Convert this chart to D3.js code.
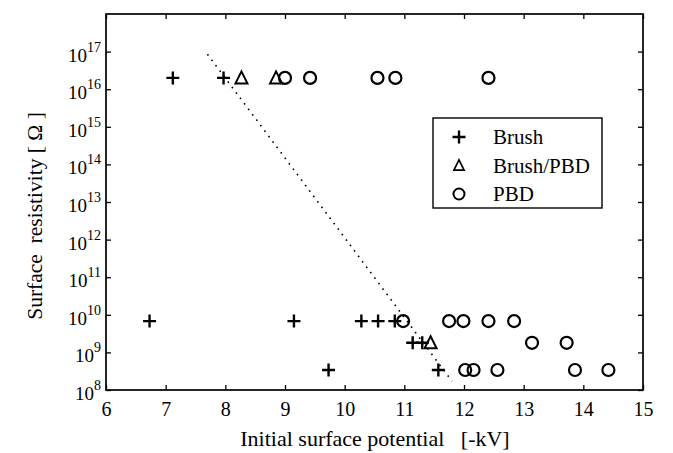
<!DOCTYPE html>
<meta charset="utf-8">
<script src="https://d3js.org/d3.v7.min.js"></script>
<style>
  body { margin: 0; background: #fff; }
  text { font-family: "Liberation Serif", "Times New Roman", serif; fill: #000; }
</style>
<div id="chart"></div>
<script>
// data
var brushX = [7.12, 7.97, 6.73, 9.15, 10.28, 10.56, 10.84, 11.14, 11.30, 9.73, 11.57]
var brushY = [2e16, 2e16, 6.8e9, 6.8e9, 6.8e9, 6.8e9, 6.8e9, 1.8e9, 1.8e9, 3.4e8, 3.4e8]
var mixX = [8.27, 8.85, 11.44]
var mixY = [2e16, 2e16, 1.8e9]
var pbdX = [9.0, 9.42, 10.55, 10.85, 12.41, 10.98, 11.75, 11.99, 12.41, 12.84, 13.14, 13.72, 12.02, 12.16, 12.56, 13.86, 14.42]
var pbdY = [2e16, 2e16, 2e16, 2e16, 2e16, 6.8e9, 6.8e9, 6.8e9, 6.8e9, 6.8e9, 1.8e9, 1.8e9, 3.4e8, 3.4e8, 3.4e8, 3.4e8, 3.4e8]
var fitX = [7.7, 11.8]
var fitY = [8.5e16, 1.7e8]
var xTicks = [6, 7, 8, 9, 10, 11, 12, 13, 14, 15]
var yExps = [8, 9, 10, 11, 12, 13, 14, 15, 16, 17]
var legendNames = ["Brush", "Brush/PBD", "PBD"]

var width = 673, height = 453
var pLeft = 106, pRight = 643, pTop = 14, pBottom = 390

var svg = d3.select("#chart").append("svg")
    .attr("width", width)
    .attr("height", height)

var x = d3.scaleLinear().domain([6, 15]).range([pLeft, pRight])
var y = d3.scaleLog().domain([1e8, 1e18]).range([pBottom, pTop])

var plusPath = "M-6.5,0H6.5M0,-6.5V6.5"
var triPath = "M0,-6.5L6,5.5L-6,5.5Z"

// axes, ticks pointing inward
svg.append("g")
    .attr("transform", "translate(0," + pBottom + ")")
    .call(d3.axisBottom(x).tickValues(xTicks).tickSizeInner(-5).tickSizeOuter(0).tickPadding(12))
    .call(function(g) {
      g.select(".domain").remove()
      g.selectAll("text").style("font-size", "20px")
    })
svg.append("g")
    .attr("transform", "translate(0," + pTop + ")")
    .call(d3.axisTop(x).tickValues(xTicks).tickSizeInner(-5).tickSizeOuter(0).tickFormat(""))
    .call(function(g) { g.select(".domain").remove() })

var yVals = yExps.map(function(e) { return Math.pow(10, e) })
svg.append("g")
    .attr("transform", "translate(" + pLeft + ",0)")
    .call(d3.axisLeft(y).tickValues(yVals).tickSizeInner(-5).tickSizeOuter(0).tickFormat(""))
    .call(function(g) { g.select(".domain").remove() })
svg.append("g")
    .attr("transform", "translate(" + pRight + ",0)")
    .call(d3.axisRight(y).tickValues(yVals).tickSizeInner(-5).tickSizeOuter(0).tickFormat(""))
    .call(function(g) { g.select(".domain").remove() })

svg.selectAll("g.tick line").attr("stroke", "#000").attr("stroke-width", 1.3)

// y tick labels 10^n
var ylab = svg.append("g").selectAll("text")
    .data(yExps)
    .enter().append("text")
    .attr("x", pLeft - 5)
    .attr("y", function(d) { return y(Math.pow(10, d)) + 10 })
    .attr("text-anchor", "end")
ylab.append("tspan").style("font-size", "19px").text("10")
ylab.append("tspan").attr("dy", -10).style("font-size", "14px").text(function(d) { return d })

// frame
svg.append("rect")
    .attr("x", pLeft).attr("y", pTop)
    .attr("width", pRight - pLeft).attr("height", pBottom - pTop)
    .attr("fill", "none").attr("stroke", "#000").attr("stroke-width", 1.7)

// dotted trend line
svg.append("path")
    .datum(d3.zip(fitX, fitY))
    .attr("d", d3.line().x(function(d) { return x(d[0]) }).y(function(d) { return y(d[1]) }))
    .attr("fill", "none")
    .attr("stroke", "#000")
    .attr("stroke-width", 1.6)
    .attr("stroke-dasharray", "1.6,5.2")

// markers
svg.append("g").selectAll("path")
    .data(d3.zip(brushX, brushY))
    .enter().append("path")
    .attr("d", plusPath)
    .attr("transform", function(d) { return "translate(" + x(d[0]) + "," + y(d[1]) + ")" })
    .attr("stroke", "#000").attr("stroke-width", 2.4).attr("fill", "none")

svg.append("g").selectAll("path")
    .data(d3.zip(mixX, mixY))
    .enter().append("path")
    .attr("d", triPath)
    .attr("transform", function(d) { return "translate(" + x(d[0]) + "," + y(d[1]) + ")" })
    .attr("stroke", "#000").attr("stroke-width", 2).attr("fill", "none")

svg.append("g").selectAll("circle")
    .data(d3.zip(pbdX, pbdY))
    .enter().append("circle")
    .attr("cx", function(d) { return x(d[0]) })
    .attr("cy", function(d) { return y(d[1]) })
    .attr("r", 6)
    .attr("stroke", "#000").attr("stroke-width", 2.2).attr("fill", "none")

// legend
var legend = svg.append("g").attr("transform", "translate(433,118)")
legend.append("rect")
    .attr("width", 169).attr("height", 90)
    .attr("fill", "#fff").attr("stroke", "#000").attr("stroke-width", 1.4)
var rows = legend.selectAll("g.row")
    .data(legendNames)
    .enter().append("g")
    .attr("class", "row")
    .attr("transform", function(d, i) { return "translate(0," + (19 + i * 28.5) + ")" })
rows.each(function(d, i) {
  var r = d3.select(this)
  if (i == 0) r.append("path").attr("d", plusPath).attr("transform", "translate(26,0)")
      .attr("stroke", "#000").attr("stroke-width", 2.4).attr("fill", "none")
  if (i == 1) r.append("path").attr("d", triPath).attr("transform", "translate(26,0) scale(0.85)")
      .attr("stroke", "#000").attr("stroke-width", 2).attr("fill", "none")
  if (i == 2) r.append("circle").attr("cx", 26).attr("r", 5.5)
      .attr("stroke", "#000").attr("stroke-width", 2).attr("fill", "none")
})
rows.append("text")
    .attr("x", 60).attr("y", 7)
    .style("font-size", "21px")
    .text(function(d) { return d })

// axis titles
svg.append("text")
    .attr("x", 375).attr("y", 446)
    .attr("text-anchor", "middle")
    .style("font-size", "22px")
    .attr("xml:space", "preserve")
    .text("Initial surface potential   [-kV]")

svg.append("text")
    .attr("transform", "translate(42,216) rotate(-90)")
    .attr("text-anchor", "middle")
    .style("font-size", "21.5px")
    .attr("xml:space", "preserve")
    .text("Surface  resistivity [ Ω ]")
</script>
